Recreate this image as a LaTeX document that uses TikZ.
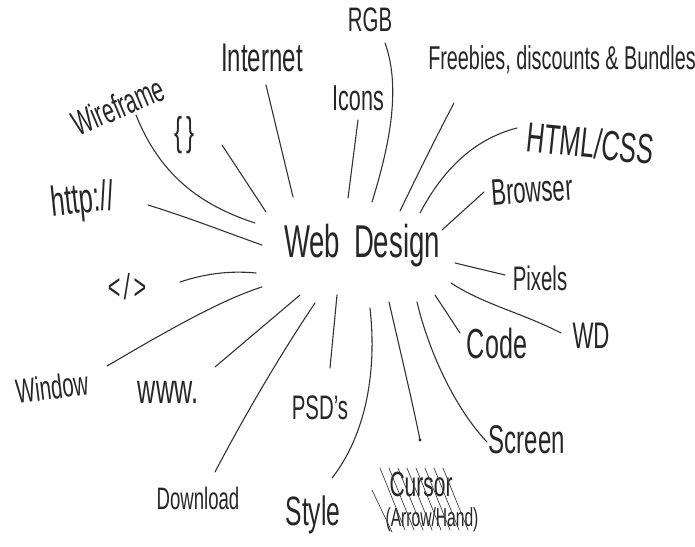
\documentclass[tikz,border=0pt]{standalone}
\usepackage{fontspec}
\setmainfont{Liberation Sans}
\tikzset{
  lbl/.style={inner sep=0pt, text=black!85},
  ln/.style={line width=1.1pt, draw=black!80, line cap=round},
  hatch/.style={line width=0.7pt, draw=black!75, line cap=round}
}
% \lab{name}{x,y}{angle}{size}{text}
\newcommand\lab[5]{%
  \begin{scope}[shift={(#2)}]
    \node[lbl, rotate=#3, xscale=0.6] (#1) at (0,0) {\fontsize{#4}{#4}\selectfont #5};
  \end{scope}}
\begin{document}
\begin{tikzpicture}[x=1pt,y=-1pt]
\useasboundingbox (0,0) rectangle (695,546);
% centre
\lab{wd}{362,246}{0}{46}{Web\hspace{0.5em}Design}
% labels
\lab{rgb}{370,20}{0}{34}{RGB}
\lab{internet}{262,58}{0}{40}{Internet}
\lab{icons}{358,98}{0}{36}{Icons}
\lab{wire}{118,106}{23}{35}{Wireframe}
\lab{brace}{185,135}{0}{40}{\{\,\}}
\lab{free}{562,60}{0}{33}{Freebies, discounts \& Bundles}
\lab{html}{590,143}{-6}{42}{HTML/CSS}
\lab{browser}{532,190}{4}{37}{Browser}
\lab{pixels}{540,278}{0}{34}{Pixels}
\lab{wdd}{591,336}{0}{37}{WD}
\lab{code}{497,343}{0}{42}{Code}
\lab{screen}{527,440}{0}{40}{Screen}
\lab{cursor}{421,484}{0}{35}{Cursor}
\lab{arrowhand}{432,520}{0}{26}{(Arrow/Hand)}
\lab{style}{313,515}{0}{41}{Style}
\lab{psd}{320,408}{0}{34}{PSD's}
\lab{download}{198,498}{0}{31}{Download}
\lab{www}{168,392}{0}{42}{www.}
\lab{window}{52,387}{7}{34}{Window}
\lab{tag}{127,287}{0}{36}{<\,/\,>}
\lab{http}{83,202}{6}{42}{http://}
% connector end points
\coordinate (wireA) at (136,115); \coordinate (wireB) at (255,223);
\coordinate (braceA) at (222,145); \coordinate (braceB) at (266,212);
\coordinate (intA) at (266,85); \coordinate (intB) at (293,197);
\coordinate (icoA) at (358,120); \coordinate (icoB) at (348,198);
\coordinate (rgbA) at (385,43); \coordinate (rgbB) at (372,202);
\coordinate (freeA) at (454,103); \coordinate (freeB) at (400,211);
\coordinate (htmlA) at (517,128); \coordinate (htmlB) at (420,213);
\coordinate (browA) at (484,192); \coordinate (browB) at (442,230);
\coordinate (pixA) at (455,263); \coordinate (pixB) at (505,275);
\coordinate (wdA) at (451,283); \coordinate (wdB) at (561,333);
\coordinate (codeA) at (435,295); \coordinate (codeB) at (460,333);
\coordinate (scrA) at (417,302); \coordinate (scrB) at (487,442);
\coordinate (curA) at (389,302); \coordinate (curB) at (420,440);
\coordinate (styA) at (370,308); \coordinate (styB) at (332,478);
\coordinate (psdA) at (337,295); \coordinate (psdB) at (330,368);
\coordinate (dlA) at (315,303); \coordinate (dlB) at (215,472);
\coordinate (wwwA) at (300,295); \coordinate (wwwB) at (215,367);
\coordinate (winA) at (262,287); \coordinate (winB) at (107,366);
\coordinate (tagA) at (180,282); \coordinate (tagB) at (256,273);
\coordinate (httpA) at (148,205); \coordinate (httpB) at (262,245);
% connectors
\draw[ln] (wireA) .. controls (160,175) and (200,205) .. (wireB);
\draw[ln] (braceA) -- (braceB);
\draw[ln] (intA) -- (intB);
\draw[ln] (icoA) -- (icoB);
\draw[ln] (rgbA) .. controls (402,90) and (388,150) .. (rgbB);
\draw[ln] (freeA) .. controls (432,145) and (415,180) .. (freeB);
\draw[ln] (htmlA) .. controls (470,140) and (440,175) .. (htmlB);
\draw[ln] (browA) -- (browB);
\draw[ln] (pixA) -- (pixB);
\draw[ln] (wdA) .. controls (485,305) and (520,312) .. (wdB);
\draw[ln] (codeA) -- (codeB);
\draw[ln] (scrA) .. controls (427,345) and (452,405) .. (scrB);
\draw[ln] (curA) .. controls (400,350) and (412,400) .. (curB);
\fill[black!85] (curB) circle (1.6pt);
\draw[ln] (styA) .. controls (378,380) and (362,440) .. (styB);
\draw[ln] (psdA) -- (psdB);
\draw[ln] (dlA) .. controls (280,355) and (245,415) .. (dlB);
\draw[ln] (wwwA) -- (wwwB);
\draw[ln] (winA) .. controls (220,300) and (160,335) .. (winB);
\draw[ln] (tagA) .. controls (210,272) and (235,271) .. (tagB);
\draw[ln] (httpA) .. controls (190,218) and (225,232) .. (httpB);
% crossing-out hatching over "Cursor"
\foreach \x in {0,9,18,27,36,45,54,63} {
  \draw[hatch] (380+\x,468) -- (405+\x,530);
}
\draw[hatch] (372,490) -- (392,532);
\end{tikzpicture}
\end{document}
